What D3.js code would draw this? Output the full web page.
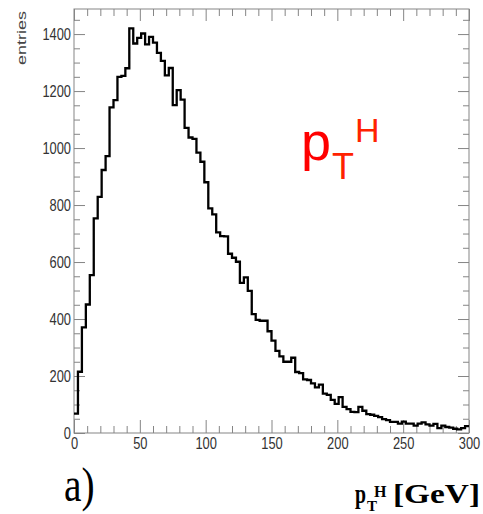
<!DOCTYPE html>
<html>
<head>
<meta charset="utf-8">
<script src="https://cdn.jsdelivr.net/npm/d3@7"></script>
<style>
  html, body { margin: 0; padding: 0; background: #fff; }
  svg { display: block; }
</style>
</head>
<body>
<div id="chart"></div>
<script>
// histogram: 100 bins of 3 GeV between 0 and 300
const xRange = [0, 300];
const counts = [
    68, 215, 371, 451, 554, 753, 829, 923, 972, 1143,
    1168, 1250, 1253, 1280, 1420, 1367, 1387, 1402, 1364, 1390,
    1370, 1334, 1306, 1255, 1281, 1151, 1203, 1170, 1071, 1037,
    1032, 984, 952, 880, 788, 767, 704, 691, 690, 629,
    615, 601, 527, 546, 499, 417, 397, 394, 394, 357,
    324, 288, 269, 250, 250, 264, 214, 210, 188, 186,
    174, 160, 170, 138, 134, 116, 102, 126, 92, 84,
    74, 73, 92, 78, 66, 64, 60, 56, 49, 45,
    39, 39, 33, 40, 33, 33, 26, 33, 37, 30,
    26, 32, 17, 26, 21, 19, 15, 13, 17, 24
];
const xTicks = [0, 50, 100, 150, 200, 250, 300];
const yTicks = [0, 200, 400, 600, 800, 1000, 1200, 1400];
const yMax = 1488;

const width = 483, height = 514;
const plotLeft = 74, plotRight = 469, plotTop = 9, plotBottom = 433;
const axisColor = "#858585";
const labelColor = "#333";
const squeeze = 0.78; // tick labels are narrow in the original

const svg = d3.select("#chart").append("svg")
    .attr("width", width)
    .attr("height", height);

const x = d3.scaleLinear().domain(xRange).range([plotLeft, plotRight]);
const y = d3.scaleLinear().domain([0, yMax]).range([plotBottom, plotTop]);

const binWidth = (xRange[1] - xRange[0]) / counts.length;
const xMinor = d3.range(0, 301, 10).filter(v => v % 50 !== 0);
const yMinor = d3.range(0, yMax, 50).filter(v => v % 200 !== 0);

function styleAxis(g) {
    g.select(".domain").remove();
    g.selectAll("line").attr("stroke", axisColor).attr("stroke-width", 1);
}

// minor ticks on all four sides
svg.append("g").attr("transform", `translate(0,${plotBottom})`)
    .call(d3.axisBottom(x).tickValues(xMinor).tickSize(-7).tickFormat(""))
    .call(styleAxis);
svg.append("g").attr("transform", `translate(0,${plotTop})`)
    .call(d3.axisTop(x).tickValues(xMinor).tickSize(-7).tickFormat(""))
    .call(styleAxis);
svg.append("g").attr("transform", `translate(${plotLeft},0)`)
    .call(d3.axisLeft(y).tickValues(yMinor).tickSize(-6).tickFormat(""))
    .call(styleAxis);
svg.append("g").attr("transform", `translate(${plotRight},0)`)
    .call(d3.axisRight(y).tickValues(yMinor).tickSize(-6).tickFormat(""))
    .call(styleAxis);

// major ticks + labels
const xAxis = svg.append("g").attr("transform", `translate(0,${plotBottom})`)
    .call(d3.axisBottom(x).tickValues(xTicks).tickSize(-13).tickPadding(4).tickFormat(d3.format("d")))
    .call(styleAxis);
xAxis.selectAll("text")
    .attr("font-family", "'Liberation Sans', Arial, sans-serif")
    .attr("font-size", 16.5)
    .attr("fill", labelColor)
    .attr("transform", `scale(${squeeze},1)`);

svg.append("g").attr("transform", `translate(0,${plotTop})`)
    .call(d3.axisTop(x).tickValues(xTicks).tickSize(-12).tickFormat(""))
    .call(styleAxis);

const yAxis = svg.append("g").attr("transform", `translate(${plotLeft},0)`)
    .call(d3.axisLeft(y).tickValues(yTicks).tickSize(-11).tickFormat(d3.format("d")))
    .call(styleAxis);
yAxis.selectAll("text")
    .attr("font-family", "'Liberation Sans', Arial, sans-serif")
    .attr("font-size", 16.5)
    .attr("fill", labelColor)
    .attr("x", -3 / squeeze)
    .attr("transform", `scale(${squeeze},1)`);

svg.append("g").attr("transform", `translate(${plotRight},0)`)
    .call(d3.axisRight(y).tickValues(yTicks).tickSize(-11).tickFormat(""))
    .call(styleAxis);

// frame
svg.append("rect")
    .attr("x", plotLeft).attr("y", plotTop)
    .attr("width", plotRight - plotLeft).attr("height", plotBottom - plotTop)
    .attr("fill", "none")
    .attr("stroke", axisColor)
    .attr("stroke-width", 1);

// histogram outline
const pts = counts.map((c, i) => [xRange[0] + i * binWidth, c]);
pts.push([xRange[1], counts[counts.length - 1]]);

const line = d3.line()
    .x(d => x(d[0]))
    .y(d => y(d[1]))
    .curve(d3.curveStepAfter);

svg.append("path")
    .datum(pts)
    .attr("d", line)
    .attr("fill", "none")
    .attr("stroke", "#000")
    .attr("stroke-width", 2.3)
    .attr("stroke-linejoin", "miter");

// y title
svg.append("text")
    .attr("transform", "translate(26,11) rotate(-90) scale(1,0.72)")
    .attr("text-anchor", "end")
    .attr("font-family", "'Liberation Sans', Arial, sans-serif")
    .attr("font-size", 18)
    .attr("fill", "#444")
    .text("entries");

// red label inside the plot
const red = svg.append("g").attr("font-family", "'Liberation Sans', Arial, sans-serif");
red.append("text").attr("x", 301).attr("y", 160).attr("font-size", 54).attr("fill", "#ff0000").text("p");
red.append("text").attr("x", 332).attr("y", 179).attr("font-size", 36).attr("fill", "#ff2200").text("T");
red.append("text").attr("x", 355).attr("y", 142).attr("font-size", 34).attr("fill", "#ff2200").text("H");

// panel tag
svg.append("text")
    .attr("transform", "translate(64,501) scale(0.82,1)")
    .attr("font-family", "'Liberation Serif', 'Times New Roman', serif")
    .attr("font-size", 48)
    .attr("fill", "#000")
    .text("a)");

// x title
const xt = svg.append("g")
    .attr("font-family", "'Liberation Serif', 'Times New Roman', serif")
    .attr("font-weight", "bold")
    .attr("fill", "#000");
xt.append("text").attr("x", 355).attr("y", 503).attr("font-size", 27).attr("textLength", 11).attr("lengthAdjust", "spacingAndGlyphs").text("p");
xt.append("text").attr("x", 367).attr("y", 511).attr("font-size", 15).text("T");
xt.append("text").attr("x", 374).attr("y", 497).attr("font-size", 16).text("H");
xt.append("text").attr("x", 393).attr("y", 503).attr("font-size", 27)
    .attr("textLength", 87).attr("lengthAdjust", "spacingAndGlyphs").text("[GeV]");
</script>
</body>
</html>
